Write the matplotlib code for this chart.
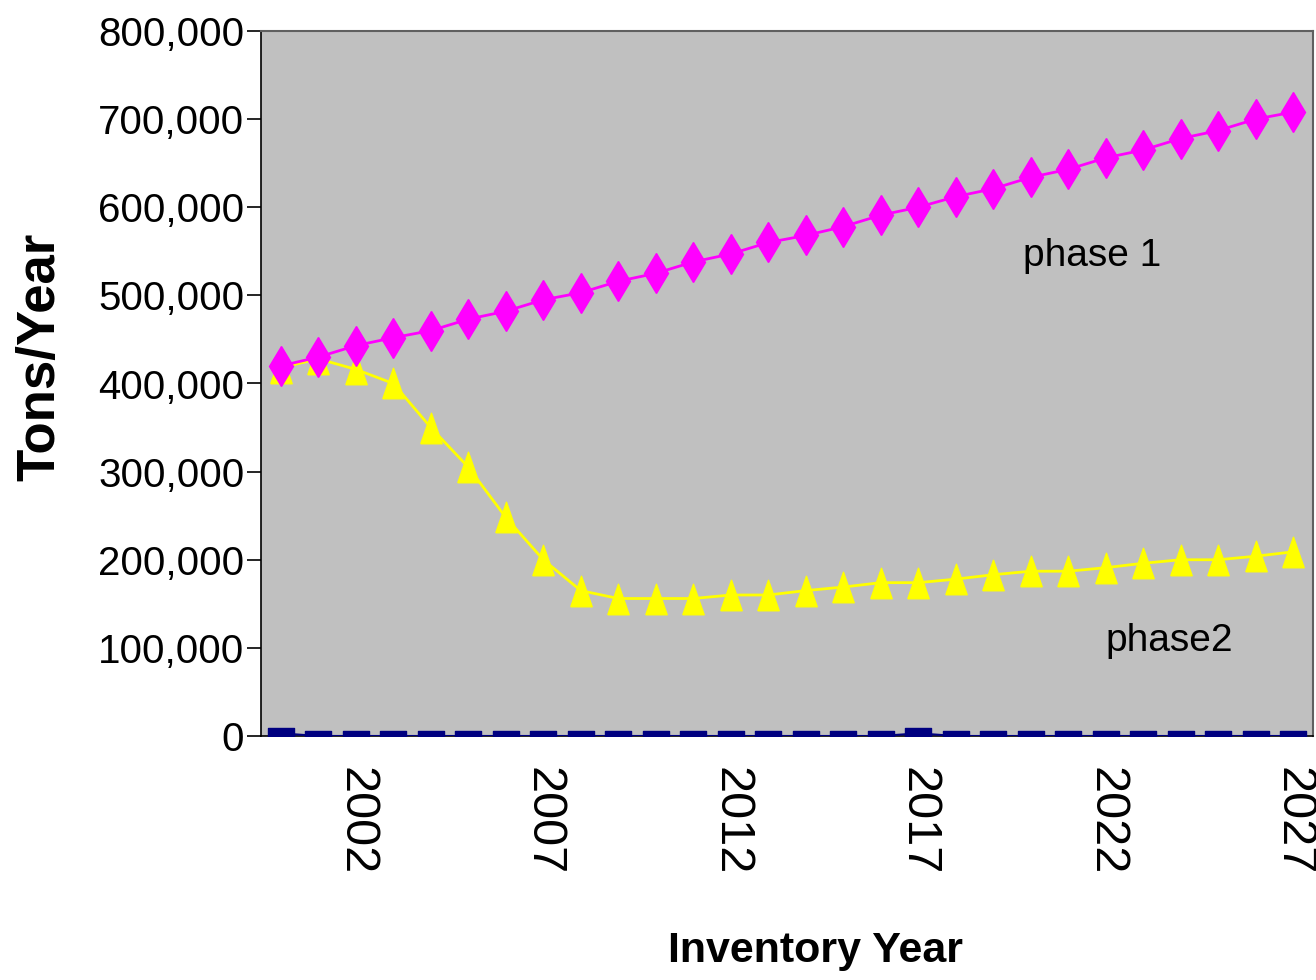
import matplotlib
matplotlib.use("Agg")
import matplotlib.pyplot as plt
from matplotlib import font_manager

YEARS = list(range(2000, 2028))
PHASE1 = [420000, 430000, 443000, 452000, 460000, 473000, 482000, 495000,
          503000, 516000, 525000, 538000, 547000, 560000, 568000, 578000,
          591000, 600000, 612000, 621000, 634000, 643000, 656000, 665000,
          678000, 687000, 700000, 708000]
PHASE2 = [418000, 428000, 416000, 400000, 350000, 305000, 248000, 200000,
          165000, 156000, 156000, 156000, 160000, 160000, 165000, 169000,
          174000, 174000, 178000, 183000, 187000, 187000, 191000, 196000,
          200000, 200000, 204000, 209000]
OTHER = [3000] + [0] * 16 + [3000] + [0] * 10
YTICKS = [0, 100000, 200000, 300000, 400000, 500000, 600000, 700000, 800000]
XTICKS = [2002, 2007, 2012, 2017, 2022, 2027]

names = {f.name for f in font_manager.fontManager.ttflist}
NARROW = "Liberation Sans Narrow" if "Liberation Sans Narrow" in names else "Liberation Sans"

TRI = [(-0.7, -1), (0.7, -1), (0, 1), (-0.7, -1)]
RECT = [(-1, -0.4), (1, -0.4), (1, 0.4), (-1, 0.4), (-1, -0.4)]

fig = plt.figure(figsize=(13.16, 9.8), dpi=100)
ax = fig.add_axes([261 / 1316, 1 - 736 / 980, 1052 / 1316, 705 / 980])
ax.set_facecolor("#C0C0C0")

ax.plot(YEARS, OTHER, color="#000080", linewidth=1.5, marker=RECT,
        markersize=19, markeredgecolor="#000080", zorder=3)
ax.plot(YEARS, PHASE2, color="#FFFF00", linewidth=2, marker=TRI,
        markersize=22, markeredgecolor="#FFFF00", zorder=3)
ax.plot(YEARS, PHASE1, color="#FF00FF", linewidth=2, marker="d",
        markersize=20, markeredgecolor="#FF00FF", zorder=4)

ax.set_xlim(1999.47, 2027.53)
ax.set_ylim(0, 800000)
ax.set_yticks(YTICKS)
ax.set_yticklabels([f"{v:,}" for v in YTICKS], family=NARROW, fontsize=29)
ax.set_xticks(XTICKS)
ax.set_xticklabels([str(v) for v in XTICKS], rotation=270, fontsize=35,
                   family="Liberation Sans", va="top", ha="center")
ax.tick_params(axis="x", length=0, pad=22)
ax.tick_params(axis="y", length=10, width=1.2, pad=2, direction="out")

for side in ["top", "right"]:
    ax.spines[side].set_color("#606060")
    ax.spines[side].set_linewidth(1.5)
for side in ["left", "bottom"]:
    ax.spines[side].set_color("black")
    ax.spines[side].set_linewidth(1.2)

ax.text(2019.8, 545000, "phase 1", family=NARROW, fontsize=28, va="center")
ax.text(2022.0, 108000, "phase2", family=NARROW, fontsize=28, va="center")

fig.text(40 / 1316, 1 - 357 / 980, "Tons/Year", rotation=90, fontsize=38,
         fontweight="bold", family="Liberation Sans", ha="center", va="center")
fig.text(816 / 1316, 1 - 951 / 980, "Inventory Year", fontsize=31,
         fontweight="bold", family=NARROW, ha="center", va="center")

fig.savefig("out.png", dpi=100)
